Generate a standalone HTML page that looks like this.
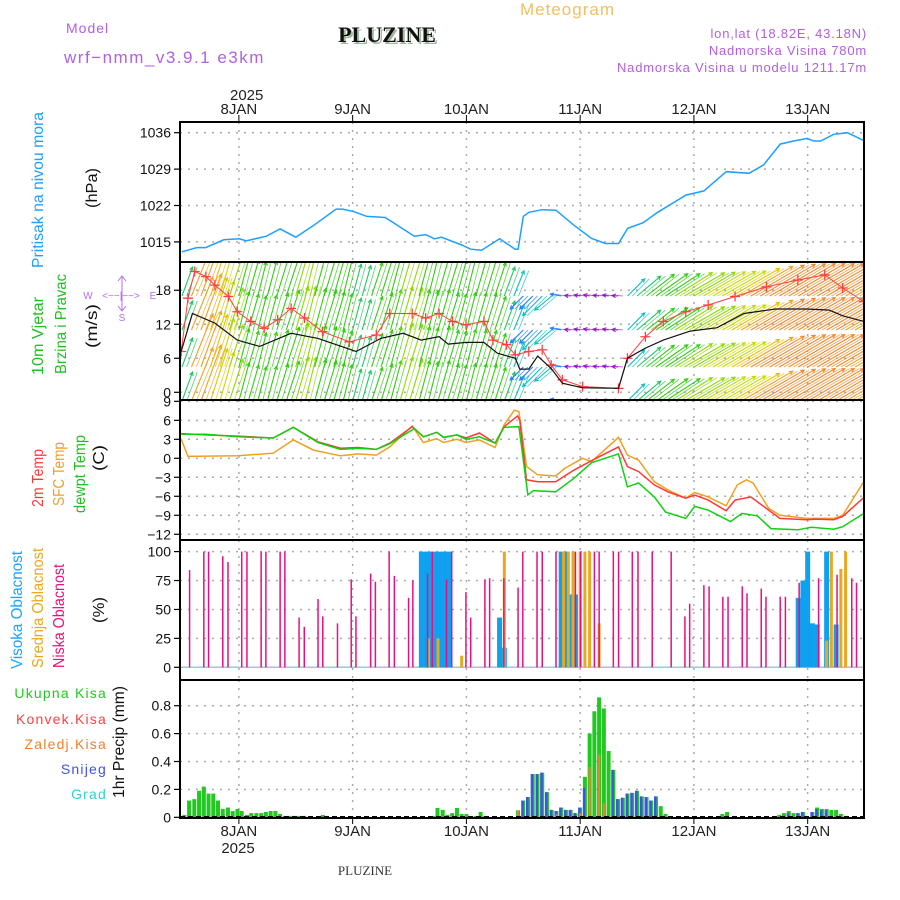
<!DOCTYPE html>
<html><head><meta charset="utf-8">
<style>
html,body{margin:0;padding:0;background:#fff;}
svg{display:block;font-family:"Liberation Sans",sans-serif;}
</style></head>
<body>
<svg id="chart" width="900" height="900" viewBox="0 0 900 900" xmlns="http://www.w3.org/2000/svg">
<text x="520" y="15" font-size="17" fill="#f0c060" letter-spacing="1">Meteogram</text>
<text x="66" y="33" font-size="14" fill="#b060e0" letter-spacing="1">Model</text>
<text x="64" y="63" font-size="17" fill="#b060e0" letter-spacing="1.5">wrf−nmm_v3.9.1 e3km</text>
<text x="389" y="44" font-size="22" font-weight="bold" font-family="Liberation Serif,serif" fill="#a0b8a0" text-anchor="middle">PLUZINE</text>
<text x="387" y="42" font-size="22" font-weight="bold" font-family="Liberation Serif,serif" fill="#111" text-anchor="middle">PLUZINE</text>
<text x="867" y="38" font-size="13" fill="#b060e0" text-anchor="end" letter-spacing="0.8">lon,lat (18.82E, 43.18N)</text>
<text x="867" y="55" font-size="13" fill="#b060e0" text-anchor="end" letter-spacing="0.8">Nadmorska Visina 780m</text>
<text x="867" y="72" font-size="13" fill="#b060e0" text-anchor="end" letter-spacing="0.8">Nadmorska Visina u modelu 1211.17m</text>
<text x="230" y="100" font-size="15" fill="#222">2025</text>
<text x="872" y="650" font-size="14" fill="#d8e0d8" font-family="Liberation Serif,serif" transform="rotate(-90 885 600)">made by Angel</text>
<text x="365" y="875" font-size="13" fill="#333" font-family="Liberation Serif,serif" text-anchor="middle">PLUZINE</text>
<text x="238" y="853" font-size="15" fill="#222" text-anchor="middle">2025</text>
<g id="g"></g>
</svg>
<script>
// ---------- data ----------
const dayLabels = ["8JAN","9JAN","10JAN","11JAN","12JAN","13JAN"];
const dayHours = [12,36,60,84,108,132];
// pressure
const presHours = [0,3.1,5,8.8,12.1,13.5,17.8,20.7,24,27.8,32.5,33.9,36.3,39,42.9,49,51.4,53.3,54.7,59,60.9,63.2,67,70.3,70.9,72,73.2,76,78.9,82.7,86.4,89.3,92.1,94,97.3,100.2,106.3,110.1,114.8,119.6,122.7,126.2,129,131.9,133.3,134.7,137.5,140.4,144];
const presVals = [1013.1,1013.9,1013.9,1015.4,1015.6,1015.2,1016.1,1017.5,1015.9,1018.2,1021.3,1021.3,1020.8,1019.9,1019.7,1016.1,1016.4,1015.6,1015.9,1014.4,1013.6,1013.4,1015.6,1013.6,1013.6,1019.9,1020.7,1021.2,1021.1,1018.2,1015.7,1014.7,1014.7,1017.6,1018.7,1020.6,1024,1024.8,1028.5,1028.2,1029.8,1033.8,1034.4,1034.9,1034.4,1034.4,1035.7,1036,1034.4];
const presTicks = [1015,1022,1029,1036];
// wind
const windTicks = [0,6,12,18];
const speedZx = [25,50,100,150,200,270,330,415,470,520,560,600,620,660,700,730,770,780,800,820,850,875,920,1000,1020,1060,1100,1160,1220,1280,1350,1420,1470,1500,1547];
const speedVals = [7.2,13.9,12.2,9.2,8.1,10.4,9.5,7.2,9.5,10.4,9.2,9.8,8.5,8.8,8.8,6.9,6,4.1,4.1,6.4,4.2,1.6,0.8,0.7,6,7.8,9.2,10.8,11.4,13.9,14.7,14.7,14.5,13.5,12.5];
const gustZx = [25,40,55,80,100,130,150,180,210,240,270,300,340,400,460,490,540,570,600,630,660,700,720,750,770,800,830,850,875,920,1000,1020,1060,1100,1150,1200,1260,1330,1400,1460,1500,1547];
const gustVals = [7.2,16.6,21.3,20.4,18.9,16.9,14.2,12.5,11.3,12.8,14.8,13.1,10.7,8.9,10.1,13.9,13.9,13.1,13.9,12.5,11.9,12.5,9.2,8.4,6.6,7.2,7.5,4.8,2.2,1,0.7,6,9.8,12.5,14.2,15.4,16.9,18.6,19.8,20.7,18.4,16];
const arrowSpeed = [7,13,13.5,12.5,11.5,10,9,8.5,8,8.2,8.8,9.5,10.3,10.2,9.8,9.5,9,8.5,7.5,7.2,8,8.8,9.5,10.3,10,9.5,9.2,9.6,8.8,8.5,8.8,8.8,8.7,8,7,6.2,4.2,4.2,6.3,5,2.5,1.2,0.9,0.8,0.8,0.7,0.7,5.5,7,8,8.8,9.3,10,10.5,10.8,11,11.2,11.4,12.5,13.5,14,14.4,14.6,14.7,14.7,14.7,14.7,14.6,14.5,14,13.5,13,12.5];
const arrowAngle = [70,68,70,72,74,72,75,74,76,75,73,72,74,76,75,73,74,76,75,74,72,73,75,74,73,75,76,74,73,75,76,74,73,72,70,68,225,225,225,220,170,175,170,168,172,170,175,45,40,38,35,33,32,30,30,30,30,30,30,30,30,30,30,30,30,30,30,30,30,30,30,30,30];
// temperature
const tempTicks = [-12,-9,-6,-3,0,3,6,9];
const t2Zx = [25,80,150,230,275,330,380,420,460,490,540,565,595,610,640,660,690,725,745,775,780,795,820,860,900,950,1000,1020,1045,1080,1110,1150,1170,1200,1240,1260,1295,1335,1360,1420,1440,1480,1500,1547];
const t2Vals = [3.9,3.7,3.5,3.2,4.9,2.6,1.6,1.7,1.4,2.4,5.0,3.4,4.1,3.3,3.7,3.2,4.0,2.4,5.0,6.7,6.0,-3.4,-3.7,-3.7,-1.9,0,1.8,-1.3,-2.1,-4.2,-5.3,-6.3,-5.8,-6.6,-8.3,-6.6,-6.1,-8.2,-9.5,-9.7,-9.6,-9.7,-9.2,-6.2];
const sfcZx = [25,40,150,230,275,320,380,420,460,490,540,565,595,610,640,660,690,725,745,768,778,795,820,860,880,920,940,1000,1020,1045,1080,1110,1150,1170,1200,1240,1265,1285,1300,1335,1360,1420,1480,1500,1547];
const sfcVals = [3.0,0.3,0.4,0.8,2.9,1.3,0.4,0.7,0.5,1.8,5.1,2.5,3.1,2.5,3.0,2.5,2.9,1.7,5.3,7.6,7.4,-1.3,-2.6,-2.8,-1.6,0,-0.5,3.3,0.5,-0.3,-3.7,-5.0,-6.3,-5.4,-6.1,-7.5,-4.2,-3.4,-3.9,-7.9,-9.0,-9.5,-9.5,-9.0,-3.7];
const dewZx = [25,80,150,230,275,330,380,420,460,490,545,565,595,610,640,660,690,725,745,778,798,810,860,900,940,1000,1020,1045,1080,1105,1150,1170,1200,1250,1275,1310,1340,1400,1430,1480,1500,1547];
const dewVals = [3.8,3.8,3.4,3.2,4.9,2.5,1.4,1.6,1.4,2.3,4.7,3.4,4.1,3.3,3.7,3.0,3.4,2.4,4.9,5.0,-5.8,-5.1,-5.3,-3.2,-0.7,0.7,-4.5,-3.9,-6.1,-8.5,-9.5,-7.6,-8.2,-10,-8.7,-9.1,-11.1,-11.3,-10.9,-11.2,-10.8,-8.7];
// clouds
const cloudTicks = [0,25,50,75,100];
const lowHours = [1.6,4.6,5.6,8.6,9.7,12.6,13.7,16.7,17.7,20.7,21.7,24.7,25.8,28.7,29.7,32.8,35.7,36.7,39.8,40.8,43.7,44.8,47.8,48.7,51.8,52.8,55.8,56.9,59.9,60.9,63.9,64.9,67.9,70.9,71.9,74.9,76,78.9,83,84.1,87,88,91,92.1,95,96.2,99.2,103.2,106.1,107.1,110.1,111.2,114.1,115.2,118.2,119.2,122.2,123.2,126.2,127.3,130.2,134.3,138.2,141.3,142.3];
const lowVals = [84,100,100,96,91,100,100,100,100,100,100,43,35,59,44,38,76,44,81,74,100,79,60,75,81,100,76,100,65,43,76,77,77,69,100,100,100,100,100,100,100,100,100,100,100,100,100,100,44,55,71,70,61,61,70,64,68,61,61,61,73,77,80,77,73];
const highHours = [50.5,51.5,52.5,53.5,54.5,55.5,56.5,67,68,80,81,82,83,130,131,132,133,134,136,138];
const highVals = [100,100,100,100,100,100,100,43,17,100,100,63,63,60,75,100,38,37,100,37];
const midHours = [52,54,59,68,80.5,81.5,82.5,84,85,86,88,136,137,139,140];
const midVals = [25,25,10,100,100,100,100,100,100,100,38,23,100,85,100];
// precipitation
const precTicks = [0,0.2,0.4,0.6,0.8];
const rainHours = [0.5,1.5,2.6,3.6,4.6,5.6,6.6,7.6,8.6,9.7,10.7,11.7,12.6,13.7,14.6,15.7,16.7,17.7,18.7,19.7,20.7,21.7,22.7,23.7,24.7,25.8,29.7,53,53.9,55,56,57,58,59,60,62,63,64,70.9,72,73,74,75,76,77,78,79,80,81,82,83,84,85,86,87,88,89,90,91,92,93,94,95,96,97,98,99,100,101,102,114,115,126,127,128,129,130,131,133,134,135,136,137,138,139,140];
const rainVals = [0.017,0.12,0.13,0.19,0.22,0.17,0.17,0.12,0.06,0.07,0.045,0.06,0.045,0.017,0.03,0.03,0.03,0.038,0.045,0.045,0.024,0.01,0.01,0.01,0.01,0.01,0.017,0.01,0.067,0.053,0.017,0.03,0.067,0.024,0.024,0.01,0.038,0.01,0.05,0.12,0.145,0.31,0.31,0.32,0.18,0.053,0.045,0.07,0.053,0.053,0.03,0.07,0.29,0.6,0.76,0.86,0.78,0.475,0.34,0.13,0.14,0.17,0.175,0.19,0.15,0.145,0.12,0.15,0.08,0.024,0.024,0.038,0.017,0.03,0.045,0.03,0.03,0.038,0.038,0.07,0.06,0.06,0.053,0.053,0.024,0.01];
const snowHours = [72,73,74,75,76,77,78,79,80,81,82,83,84,85,91,92,93,94,95,96,97,98,99,100,128,130,131,133,134,135,136];
const snowVals = [0.12,0.145,0.31,0.31,0.32,0.18,0.053,0.045,0.07,0.053,0.053,0.03,0.07,0.21,0.34,0.13,0.14,0.17,0.175,0.19,0.15,0.145,0.12,0.15,0.03,0.03,0.038,0.038,0.06,0.05,0.05];
const frzHours = [70.9,79,84,86,88,89];
const frzVals = [0.05,0.02,0.03,0.36,0.45,0.1];

// ---------- helpers ----------
const NS="http://www.w3.org/2000/svg";
const G=document.getElementById('g');
const X0=182, PXH=4.74, XR=864;
function xh(h){return X0+h*PXH;}
function hz(zx){return (zx-26.7)/10.57;}
function mk(tag,attrs,parent){const e=document.createElementNS(NS,tag);for(const k in attrs)e.setAttribute(k,attrs[k]);(parent||G).appendChild(e);return e;}
const panels={
 pres:{top:122,bot:262,y:v=>132.7+(1036-v)*5.2},
 wind:{top:262,bot:400,y:v=>392.3-v*5.67},
 temp:{top:400,bot:540,y:v=>458.3-v*6.33},
 cloud:{top:540,bot:680,y:v=>667.3-v*1.157},
 prec:{top:680,bot:818,y:v=>817.3-v*139.5}
};
function clip(id,p){const c=mk('clipPath',{id:id});mk('rect',{x:180,y:p.top,width:XR-180,height:p.bot-p.top},c);return c;}
function grid(p,ticks,name,fmt){
  const g=mk('g',{});
  
  
  ticks.forEach(t=>{const y=p.y(t);if(y<p.top-1||y>p.bot+1)return;
    mk('line',{x1:180,x2:XR,y1:y,y2:y,stroke:'#aaa','stroke-width':1.5,'stroke-dasharray':'2,6'},g);
    mk('line',{x1:174,x2:180,y1:y,y2:y,stroke:'#000','stroke-width':1.2},g);
    const tx=mk('text',{x:171,y:y+5,'font-size':14,'text-anchor':'end',fill:'#111'},g);
    tx.textContent=fmt?fmt(t):String(t).replace('-','−');
    
    
  });
  dayHours.forEach(h=>{mk('line',{x1:xh(h),x2:xh(h),y1:p.top,y2:p.bot,stroke:'#aaa','stroke-width':1.5,'stroke-dasharray':'2,6'},g);});
}
function line(xs,vals,p,color,name,cp,w){
  const d=xs.map((h,i)=>(i?'L':'M')+xh(h).toFixed(1)+','+p.y(vals[i]).toFixed(1)).join('');
  const e=mk('path',{d:d,fill:'none',stroke:color,'stroke-width':w||1.5,'clip-path':'url(#'+cp+')'});
  
  
  return e;
}
['pres','wind','temp','cloud','prec'].forEach(k=>clip('c-'+k,panels[k]));

// pressure
grid(panels.pres,presTicks,'pressure');
line(presHours,presVals,panels.pres,'#1ea0ff','pressure-line','c-pres');

// wind
grid(panels.wind,windTicks,'wind');
function windColor(s){if(s<2)return '#9a10d0';if(s<5)return '#2080ff';if(s<6.5)return '#10c0c0';if(s<8)return '#20c860';if(s<10)return '#30cc10';if(s<11)return '#90d800';if(s<12)return '#c8d800';if(s<13)return '#e8c000';if(s<14)return '#f0a020';if(s<15)return '#f08828';return '#f04040';}
const arrows=mk('g',{'clip-path':'url(#c-wind)'});


const rowBases=[296,330,367,401];
arrowSpeed.forEach((s,i)=>{
  const h=i*2, a=arrowAngle[i]*Math.PI/180, L=Math.max(6,s*4.4);
  const col=windColor(s);
  rowBases.forEach(b=>{
    const x1=xh(h),y1=b,x2=x1+L*Math.cos(a),y2=y1-L*Math.sin(a);
    mk('line',{x1:x1,y1:y1,x2:x2,y2:y2,stroke:col,'stroke-width':1.1},arrows);
    mk('line',{x1:x1+PXH,y1:y1,x2:x2+PXH,y2:y2,stroke:col,'stroke-width':0.8,'stroke-opacity':0.8},arrows);
    const ha=a+Math.PI*0.85, hb=a-Math.PI*0.85;
    mk('path',{d:`M${x2+4*Math.cos(ha)},${y2-4*Math.sin(ha)}L${x2},${y2}L${x2+4*Math.cos(hb)},${y2-4*Math.sin(hb)}`,fill:'none',stroke:col,'stroke-width':1.1},arrows);
  });
});
line(gustZx.map(hz),gustVals,panels.wind,'#ff4040','wind-gust-line','c-wind',1);
const crosses=mk('g',{'clip-path':'url(#c-wind)'});


gustZx.forEach((z,i)=>{const x=xh(hz(z)),y=panels.wind.y(gustVals[i]);
  mk('path',{d:`M${x-5},${y}h10M${x},${y-5}v10`,stroke:'#ff4040','stroke-width':1.3},crosses);});
line(speedZx.map(hz),speedVals,panels.wind,'#111','wind-speed-line','c-wind',1.2);

// temp
grid(panels.temp,tempTicks,'temperature');
line(sfcZx.map(hz),sfcVals,panels.temp,'#f0a020','sfc-temp-line','c-temp');
line(t2Zx.map(hz),t2Vals,panels.temp,'#ff3838','t2m-line','c-temp');
line(dewZx.map(hz),dewVals,panels.temp,'#10d010','dewpoint-line','c-temp');

// clouds
grid(panels.cloud,cloudTicks,'cloud');
const cp=panels.cloud;
mk('line',{x1:180,x2:XR,y1:cp.y(0),y2:cp.y(0),stroke:'#9cc',"stroke-width":1.5});
highHours.forEach((h,i)=>{const r=mk('rect',{x:xh(h)-2.5,y:cp.y(highVals[i]),width:5,height:cp.y(0)-cp.y(highVals[i]),fill:'#10a0f0'});
  
  });
midHours.forEach((h,i)=>{const r=mk('rect',{x:xh(h)-1.5,y:cp.y(midVals[i]),width:3,height:cp.y(0)-cp.y(midVals[i]),fill:'#e8a820'});
  
  });
lowHours.forEach((h,i)=>{const r=mk('rect',{x:xh(h)-0.75,y:cp.y(lowVals[i]),width:1.5,height:cp.y(0)-cp.y(lowVals[i]),fill:'#e81080'});
  
  });

// precip
grid(panels.prec,precTicks,'precip',t=>t===0?'0':t.toFixed(1));
const pp=panels.prec;
rainHours.forEach((h,i)=>{const r=mk('rect',{x:xh(h)-2,y:pp.y(rainVals[i]),width:4,height:pp.y(0)-pp.y(rainVals[i]),fill:'#20c820'});
  
  });
snowHours.forEach((h,i)=>{const r=mk('rect',{x:xh(h)-2,y:pp.y(snowVals[i]),width:2.5,height:pp.y(0)-pp.y(snowVals[i]),fill:'#4050f0'});
  
  });
frzHours.forEach((h,i)=>{const r=mk('rect',{x:xh(h)-1,y:pp.y(frzVals[i]),width:2,height:pp.y(0)-pp.y(frzVals[i]),fill:'#f08030'});
  
  });
mk('line',{x1:180,x2:XR,y1:817,y2:817,stroke:'#000','stroke-width':2,'stroke-dasharray':'5,3'});

// panel borders
Object.keys(panels).forEach(k=>{const p=panels[k];const r=mk('rect',{x:180,y:p.top,width:XR-180,height:p.bot-p.top,fill:'none',stroke:'#000','stroke-width':2});
  
  });

// day labels + ticks
dayHours.forEach((h,i)=>{
  const x=xh(h);
  mk('line',{x1:x,x2:x,y1:115,y2:122,stroke:'#000','stroke-width':1});
  mk('line',{x1:x,x2:x,y1:818,y2:824,stroke:'#000','stroke-width':1});
  const t=mk('text',{x:x,y:114,'font-size':15,'text-anchor':'middle',fill:'#222'});t.textContent=dayLabels[i];
  
  
  const b=mk('text',{x:x,y:836,'font-size':15,'text-anchor':'middle',fill:'#222'});b.textContent=dayLabels[i];
  
  
});

// left labels
function vtext(txt,x,cy,len,color,size,name){
  const t=mk('text',{x:0,y:0,'font-size':size,fill:color,'text-anchor':'middle',textLength:len,lengthAdjust:'spacingAndGlyphs',transform:`translate(${x},${cy}) rotate(-90)`});
  t.textContent=txt;
  
  
}
vtext('Pritisak na nivou mora',43,190,156,'#1ea0ff',16,'pressure-title');
vtext('(hPa)',97,188,40,'#111',16,'pressure-unit');
vtext('10m Vjetar',43,336,78,'#20c020',16,'wind-title-1');
vtext('Brzina i Pravac',66,324,100,'#20c020',16,'wind-title-2');
vtext('(m/s)',97,326,44,'#111',16,'wind-unit');
vtext('2m Temp',43,478,58,'#ff3838',16,'t2m-title');
vtext('SFC Temp',64,474,64,'#f0a020',16,'sfc-title');
vtext('dewpt Temp',85,474,78,'#20c020',16,'dewpt-title');
vtext('(C)',104,458,26,'#111',16,'temp-unit');
vtext('Visoka Oblacnost',22,610,118,'#1ea0ff',16,'high-cloud-title');
vtext('Srednja Oblacnost',43,608,120,'#e8a820',16,'mid-cloud-title');
vtext('Niska Oblacnost',64,616,104,'#e81080',16,'low-cloud-title');
vtext('(%)',104,610,26,'#111',16,'cloud-unit');
vtext('1hr Precip (mm)',124,742,112,'#111',16,'precip-title');
[['Ukupna Kisa','#20c820',698],['Konvek.Kisa','#ff4040',724],['Zaledj.Kisa','#f08030',749],['Snijeg','#4050f0',774],['Grad','#30d0d0',799]].forEach(a=>{
  const t=mk('text',{x:107,y:a[2],'font-size':14,fill:a[1],'text-anchor':'end','letter-spacing':'1.2'});
  t.textContent=a[0];
  
  
});
// compass
const cg=mk('g',{fill:'#b070f0',stroke:'none'});


[['W',88,299],['E',153,299],['<−−|−−>',121,299],['S',122,321]].forEach(a=>{const t=mk('text',{x:a[1],y:a[2],'font-size':10,'text-anchor':'middle'},cg);t.textContent=a[0];});
mk('path',{d:'M122,276v34M118,281l4,-5l4,5M118,306l4,5l4,-5',stroke:'#b070f0',fill:'none','stroke-width':1},cg);
</script>
</body></html>
